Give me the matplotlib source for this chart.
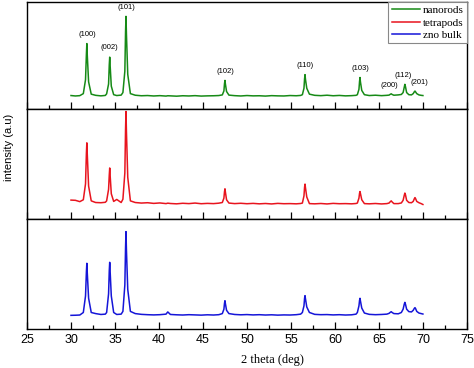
import matplotlib.pyplot as plt
from matplotlib.ticker import MultipleLocator

# 2 theta grid (deg), shared by the three patterns
two_theta = [
    30.0, 30.5, 31.0,
    31.4, 31.65, 31.75, 31.8, 31.85, 32.0, 32.3,
    32.8, 33.4, 33.9,
    34.05, 34.27, 34.35, 34.4, 34.45, 34.58, 34.85,
    35.2, 35.7,
    35.9, 36.12, 36.2, 36.25, 36.3, 36.45, 36.75,
    37.3, 38.0, 38.7, 39.4, 40.1, 40.8, 41.0, 41.3, 42.0, 42.7, 43.4, 44.1, 44.8, 45.5, 46.2, 46.8,
    47.2, 47.38, 47.45, 47.5, 47.55, 47.68, 47.95,
    48.6, 49.3, 50.0, 50.7, 51.4, 52.1, 52.8, 53.5, 54.2, 54.9, 55.6, 56.1,
    56.3, 56.48, 56.55, 56.6, 56.65, 56.8, 57.1,
    57.7, 58.4, 59.1, 59.8, 60.5, 61.2, 61.9, 62.4,
    62.55, 62.73, 62.8, 62.85, 62.9, 63.05, 63.35,
    63.9, 64.6, 65.3, 65.9,
    66.15, 66.3, 66.4, 66.5, 66.7,
    67.2, 67.55,
    67.75, 67.88, 67.95, 68.02, 68.15, 68.4,
    68.7,
    68.9, 69.03, 69.1, 69.17, 69.3, 69.55,
    69.8, 70.0,
]

nanorods = [
    122, 118, 121,
    140, 270, 510, 609, 500, 250, 135,
    124, 119, 123,
    138, 230, 410, 482, 400, 210, 130,
    122, 126,
    150, 350, 720, 864, 700, 320, 140,
    125, 120, 122, 118, 121, 117, 120, 119, 116, 120, 118, 121, 117, 119, 120, 122,
    128, 165, 235, 264, 230, 160, 126,
    121, 118, 122, 119, 120, 117, 121, 119, 118, 122, 120, 123,
    130, 190, 280, 318, 275, 190, 135,
    124, 121, 125, 120, 123, 119, 121, 124,
    130, 180, 255, 291, 250, 170, 130,
    122, 125, 121, 124,
    126, 134, 138, 132, 125,
    128, 132,
    150, 200, 227, 205, 150, 130,
    128,
    140, 158, 164, 156, 140, 128,
    124, 122,
]

tetrapods = [
    172, 170, 158,
    175, 320, 600, 694, 590, 300, 165,
    150, 148, 152,
    165, 270, 400, 465, 395, 230, 160,
    178, 150,
    180, 420, 820, 980, 800, 380, 165,
    150, 145, 148, 142, 146, 140, 144, 141, 138, 143, 140, 145, 139, 142, 140, 144,
    150, 190, 250, 275, 245, 175, 145,
    140, 143, 139, 142, 138, 141, 137, 142, 139, 140, 138, 141,
    145, 210, 290, 318, 285, 200, 140,
    138, 141, 137, 142, 139, 140, 138, 141,
    145, 190, 235, 250, 232, 175, 140,
    138, 141, 137, 140,
    145, 158, 165, 155, 140,
    140, 146,
    170, 215, 236, 220, 170, 150,
    148,
    160, 185, 195, 185, 160, 148,
    140, 132,
]

zno_bulk = [
    124, 125, 127,
    150, 300, 520, 597, 510, 280, 150,
    140, 132, 135,
    150, 320, 530, 606, 520, 300, 150,
    132, 135,
    160, 400, 740, 885, 720, 360, 160,
    140, 133, 130, 128, 130, 135, 155, 132, 129, 127, 130, 128, 126, 129, 127, 130,
    140, 180, 235, 257, 230, 170, 140,
    132, 129, 131, 128, 130, 127, 129, 126, 128, 127, 130, 135,
    150, 210, 280, 303, 275, 200, 150,
    133, 130, 131, 128, 130, 127, 129, 135,
    150, 210, 260, 279, 255, 190, 145,
    133, 130, 132, 135,
    142, 152, 157, 150, 140,
    138, 150,
    180, 225, 242, 225, 180, 158,
    155,
    170, 188, 194, 185, 160, 145,
    140, 136,
]

# Miller index labels for the nanorod pattern
hkl_labels = ['(100)', '(002)', '(101)', '(102)', '(110)', '(103)', '(200)', '(112)', '(201)']
hkl_x = [31.8, 34.4, 36.25, 47.5, 56.6, 62.85, 66.2, 67.8, 69.6]
hkl_y = [660, 535, 915, 315, 370, 345, 185, 280, 215]

series = [('nanorods', nanorods, '#168a16'),
          ('tetrapods', tetrapods, '#e8141e'),
          ('zno bulk', zno_bulk, '#1515d8')]

fig = plt.figure(figsize=(4.74, 3.68), dpi=100)
bounds = [0.705, 0.405, 0.106]
heights = [0.29, 0.298, 0.299]
axes = []
for i, (name, vals, col) in enumerate(series):
    ax = fig.add_axes([0.057, bounds[i], 0.928, heights[i]])
    ax.plot(two_theta, vals, color=col, lw=1.1, label=name)
    ax.set_xlim(25, 75)
    ax.set_ylim(0, 1000)
    ax.set_yticks([])
    ax.xaxis.set_major_locator(MultipleLocator(5))
    ax.xaxis.set_minor_locator(MultipleLocator(2.5))
    ax.tick_params(axis='x', which='major', direction='in', length=5, width=0.9)
    ax.tick_params(axis='x', which='minor', direction='in', length=3, width=0.9)
    for s in ax.spines.values():
        s.set_linewidth(1.0)
    if i < 2:
        ax.tick_params(axis='x', labelbottom=False)
    else:
        ax.tick_params(axis='x', labelsize=9)
        for lab in ax.get_xticklabels():
            lab.set_family('Liberation Sans')
    axes.append(ax)

for lab, x, y in zip(hkl_labels, hkl_x, hkl_y):
    axes[0].text(x, y, lab, fontsize=5.5, ha='center', va='bottom', family='Liberation Sans')

handles = [axes[i].get_lines()[0] for i in range(3)]
leg = axes[0].legend(handles, [s[0] for s in series], loc='upper right',
                     bbox_to_anchor=(1.0, 1.0), fancybox=False, framealpha=1,
                     prop={'family': 'Liberation Serif', 'size': 8},
                     handlelength=2.6, handletextpad=0.2, borderpad=0.3,
                     labelspacing=0.25, borderaxespad=0.0)
leg.get_frame().set_edgecolor('#888888')
leg.get_frame().set_linewidth(0.8)

fig.text(0.574, 0.022, '2 theta (deg)', ha='center', va='center',
         family='Liberation Serif', fontsize=9)
fig.text(0.018, 0.6, 'intensity (a.u)', ha='center', va='center', rotation=90,
         family='Liberation Sans', fontsize=8)

fig.savefig('out.png', dpi=100)
